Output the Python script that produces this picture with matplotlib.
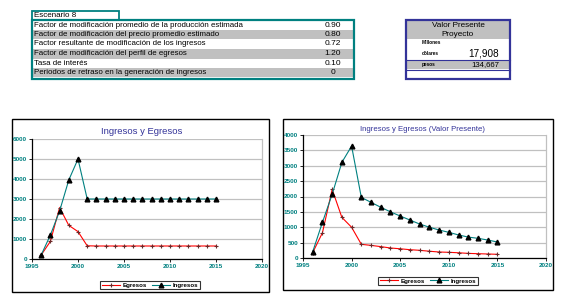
import matplotlib
matplotlib.use("Agg")
import matplotlib.pyplot as plt
from matplotlib.patches import Rectangle
from matplotlib.lines import Line2D

plt.rcParams['font.family'] = ['Liberation Sans', 'DejaVu Sans']

W, H = 562, 304

# ---------------- data ----------------
scenario_title = "Escenario 8"
param_labels = [
    "Factor de modificación promedio de la producción estimada",
    "Factor de modificación del precio promedio estimado",
    "Factor resultante de modificación de los ingresos",
    "Factor de modificación del perfil de egresos",
    "Tasa de interés",
    "Periodos de retraso en la generación de ingresos",
]
param_values = ["0.90", "0.80", "0.72", "1.20", "0.10", "0"]

vp_title = ["Valor Presente", "Proyecto"]
vp_usd_label = ["Millones", "dólares"]
vp_usd_value = "17,908"
vp_pesos_label = "pesos"
vp_pesos_value = "134,667"

years = list(range(1996, 2016))
egresos = [200, 880, 2570, 1680, 1370, 660] + [650] * 14
ingresos = [200, 1200, 2400, 3950, 5000] + [3000] * 15

egresos_vp = [175, 820, 2230, 1320, 1000, 445, 410, 370, 325, 300,
              270, 250, 220, 195, 185, 170, 150, 140, 130, 120]
ingresos_vp = [205, 1160, 2070, 3110, 3640, 1970, 1810, 1650, 1500, 1365,
               1235, 1105, 1000, 910, 835, 750, 680, 640, 585, 520]

x_ticks = [1995, 2000, 2005, 2010, 2015, 2020]

# ---------------- helpers ----------------
fig = plt.figure(figsize=(W / 100, H / 100), dpi=100)
fig.patch.set_facecolor("white")


def fx(x):
    return x / W


def fy(y):
    return 1 - y / H


def rect(x0, y0, x1, y1, fc="none", ec="none", lw=0.0, z=1):
    fig.patches.append(Rectangle((fx(x0), fy(y1)), fx(x1) - fx(x0), fy(y0) - fy(y1),
                                 transform=fig.transFigure, facecolor=fc,
                                 edgecolor=ec, linewidth=lw, zorder=z))


def hline(x0, x1, y, color, lw):
    fig.add_artist(Line2D([fx(x0), fx(x1)], [fy(y), fy(y)], transform=fig.transFigure,
                          color=color, linewidth=lw, zorder=3))


TEAL = "#008080"
NAVY = "#333399"
GRAY = "#c0c0c0"

# ---------------- parameter table ----------------
rect(32, 11, 119, 20, fc="white", ec=TEAL, lw=1.3, z=2)
fig.text(fx(34), fy(15.5), scenario_title, fontsize=5.8, va="center", ha="left", zorder=4)

rows = [(21, 29.5), (29.5, 39), (39, 48.5), (48.5, 59), (59, 68), (68, 77.5)]
for i, ((y0, y1), lab, val) in enumerate(zip(rows, param_labels, param_values)):
    if i % 2 == 1:
        rect(32, y0, 354, y1, fc=GRAY, z=1)
    yc = (y0 + y1) / 2
    fig.text(fx(34), fy(yc), lab, fontsize=5.7, va="center", ha="left", zorder=4)
    fig.text(fx(333), fy(yc), val, fontsize=6.0, va="center", ha="center", zorder=4)
rect(32, 20, 354, 78.5, ec=TEAL, lw=1.6, z=3)

# ---------------- present value box ----------------
rect(406, 20, 510, 39, fc=GRAY, z=1)
rect(406, 60, 510, 69, fc=GRAY, z=1)
fig.text(fx(458), fy(25.5), vp_title[0], fontsize=5.9, ha="center", va="center", zorder=4)
fig.text(fx(458), fy(34), vp_title[1], fontsize=5.9, ha="center", va="center", zorder=4)
fig.text(fx(422), fy(43), vp_usd_label[0], fontsize=3.4, fontweight="bold",
         ha="left", va="center", zorder=4)
fig.text(fx(422), fy(54), vp_usd_label[1], fontsize=3.4, fontweight="bold",
         ha="left", va="center", zorder=4)
fig.text(fx(499), fy(53.5), vp_usd_value, fontsize=7.2, ha="right", va="center", zorder=4)
fig.text(fx(422), fy(64.5), vp_pesos_label, fontsize=3.4, fontweight="bold",
         ha="left", va="center", zorder=4)
fig.text(fx(499), fy(64.5), vp_pesos_value, fontsize=5.6, ha="right", va="center", zorder=4)
hline(406, 510, 59.5, NAVY, 0.8)
hline(406, 510, 69.5, NAVY, 0.8)
rect(406, 19.5, 510, 78.5, ec=NAVY, lw=1.6, z=3)


# ---------------- charts ----------------
def make_chart(box, plot, title, title_xy, title_fs, eg, ing, ymax, ystep, leg_box):
    rect(*box, fc="white", ec="black", lw=1.0, z=-5)
    x0, y0, x1, y1 = plot
    ax = fig.add_axes([fx(x0), fy(y1), fx(x1) - fx(x0), fy(y0) - fy(y1)])
    ax.set_zorder(2)
    ax.set_facecolor("white")
    ax.set_xlim(1995, 2020)
    ax.set_ylim(0, ymax)
    yt = list(range(0, ymax + 1, ystep))
    ax.set_yticks(yt)
    ax.set_xticks(x_ticks)
    ax.set_yticklabels([str(v) for v in yt])
    ax.set_xticklabels([str(v) for v in x_ticks])
    for lab in ax.get_xticklabels() + ax.get_yticklabels():
        lab.set_color(TEAL)
        lab.set_fontweight("bold")
        lab.set_fontsize(4.6)
    ax.tick_params(axis="both", length=2, width=0.6, pad=1.5, color="black")
    ax.grid(axis="y", color=GRAY, linewidth=0.9)
    ax.set_axisbelow(True)
    ax.spines["left"].set_color("black")
    ax.spines["bottom"].set_color("black")
    ax.spines["left"].set_linewidth(0.9)
    ax.spines["bottom"].set_linewidth(0.9)
    ax.spines["top"].set_visible(False)
    ax.spines["right"].set_color(GRAY)
    ax.spines["right"].set_linewidth(0.9)
    l1, = ax.plot(years, eg, color="#ff0000", linewidth=0.8, marker="+",
                  markersize=3.0, markeredgecolor="#6a2a2a", markeredgewidth=0.8,
                  clip_on=False, zorder=3)
    l2, = ax.plot(years, ing, color=TEAL, linewidth=0.8, marker="^",
                  markersize=3.4, markerfacecolor="black", markeredgecolor="black",
                  clip_on=False, zorder=4)
    fig.text(fx(title_xy[0]), fy(title_xy[1]), title, fontsize=title_fs, color=NAVY,
             ha="center", va="center")
    lx0, ly0, lx1, ly1 = leg_box
    leg = fig.legend([l1, l2], ["Egresos", "Ingresos"], ncol=2,
                     loc="center", bbox_to_anchor=(fx((lx0 + lx1) / 2), fy((ly0 + ly1) / 2)),
                     fontsize=4.4, frameon=True, fancybox=False, edgecolor="black",
                     handlelength=3.0, handletextpad=0.4, columnspacing=0.8,
                     borderpad=0.25, borderaxespad=0)
    leg.get_frame().set_linewidth(0.8)
    for t in leg.get_texts():
        t.set_fontweight("bold")
    return ax


make_chart((12, 119, 269, 292), (32, 139, 262, 259), "Ingresos y Egresos", (142, 131), 6.8,
           egresos, ingresos, 6000, 1000, (106, 281, 194, 289))
make_chart((283, 119, 553, 290), (303, 135, 546, 258),
           "Ingresos y Egresos (Valor Presente)", (423, 129), 5.6,
           egresos_vp, ingresos_vp, 4000, 500, (383, 277, 473, 285))

fig.savefig("out.png", dpi=100, facecolor="white")
